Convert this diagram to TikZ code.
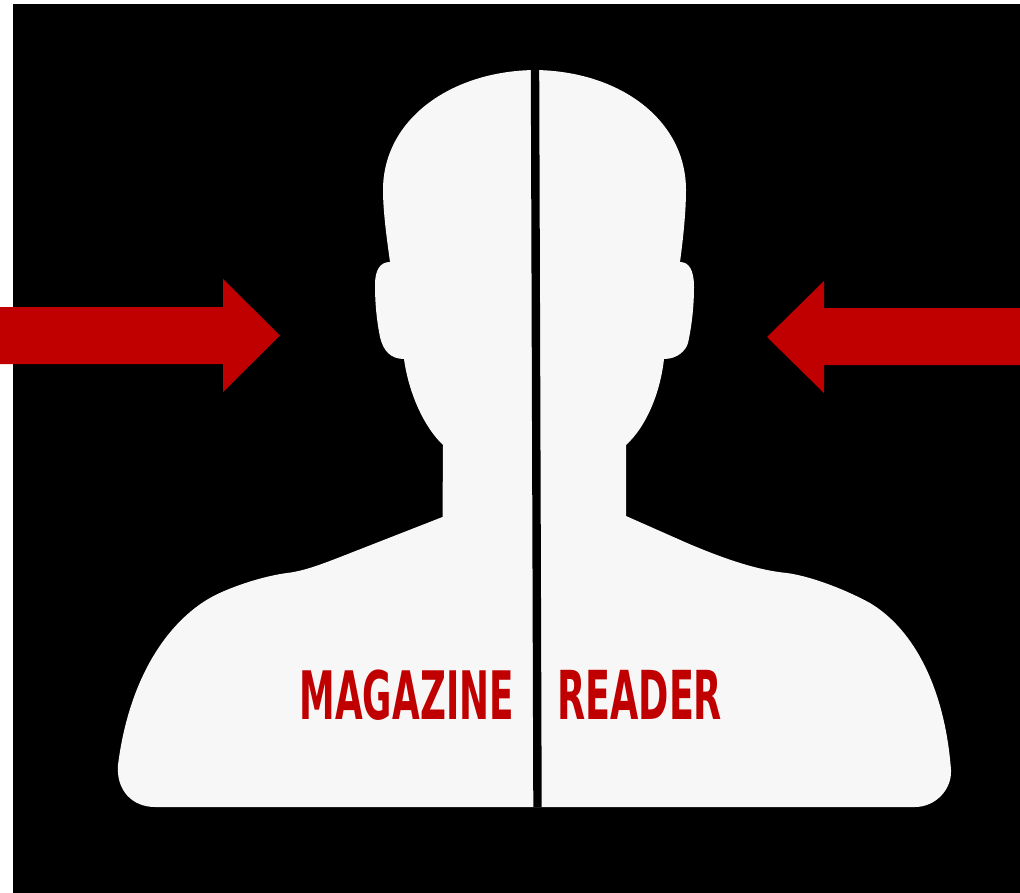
\documentclass[tikz,border=0pt]{standalone}
\usepackage{fontspec}
\setmainfont{DejaVu Sans}
\usepackage{tikz}

\begin{document}
\begin{tikzpicture}[
  x=0.25mm, y=-0.25mm,
  backdrop/.style={fill=black},
  bust/.style={fill=bustgrey},
  arw/.style={fill=arwred},
  lbl/.style={text=arwred, inner sep=0pt, font=\bfseries}]
\definecolor{bustgrey}{HTML}{F7F7F7}
\definecolor{arwred}{HTML}{C00000}
\useasboundingbox (0,0) rectangle (1020,893);

% the black panel
\fill[backdrop] (13,4) rectangle (1020,893);

% the bust
\fill[bust] (535,70)
  .. controls (450,71) and (383,120) .. (383,190)
  .. controls (383,212) and (387,240) .. (390,262)
  .. controls (380,262) and (375,270) .. (375,285)
  .. controls (375,305) and (377,322) .. (380,337)
  .. controls (383,350) and (390,359) .. (404,359)
  .. controls (409,395) and (425,428) .. (443,445)
  -- (442.5,517)
  -- (353,552)
  .. controls (325,563) and (305,571) .. (287,573)
  .. controls (265,576) and (240,584) .. (222,592)
  .. controls (175,612) and (130,670) .. (118,765)
  .. controls (116,790) and (132,807) .. (155,807)
  -- (915,807)
  .. controls (935,807) and (952,790) .. (951,770)
  .. controls (945,690) and (915,630) .. (870,603)
  .. controls (850,592) and (815,577) .. (787,573)
  .. controls (755,570) and (720,557) .. (687,543)
  -- (626,516)
  -- (626,445)
  .. controls (645,428) and (660,395) .. (664,359)
  .. controls (678,359) and (686,350) .. (688,343)
  .. controls (692,325) and (694,305) .. (694,287)
  .. controls (694,270) and (689,262) .. (680,262)
  .. controls (683,240) and (686,212) .. (686,190)
  .. controls (686,120) and (620,71) .. (535,70)
  -- cycle;

% the divide
\draw[line width=2.1mm] (535,68) -- (537.5,807);

% the two arrows
\fill[arw] (0,307) -- (223,307) -- (223,279) -- (280,335.5) -- (223,392) -- (223,364) -- (0,364) -- cycle;
\fill[arw] (1020,308) -- (824,308) -- (824,281) -- (767,337) -- (824,393) -- (824,365) -- (1020,365) -- cycle;

% the labels
\node[lbl, anchor=base] (magazine) at (406.7,719.5) {\resizebox{53.5mm}{12.4mm}{MAGAZINE}};
\node[lbl, anchor=base] (reader) at (639.7,719.5) {\resizebox{41.2mm}{12.3mm}{READER}};
\end{tikzpicture}
\end{document}
